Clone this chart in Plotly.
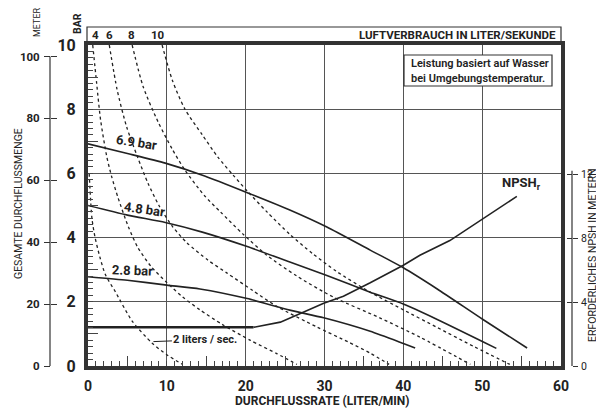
import plotly.graph_objects as go

# ---------------- data (flow in l/min, head in bar) ----------------
flow_69 = [0, 5, 9.8, 14.8, 20.2, 25.6, 30.3, 35.8, 40, 44.3, 50.1, 55.7]
head_69 = [6.92, 6.62, 6.32, 5.92, 5.4, 4.86, 4.33, 3.61, 3.06, 2.4, 1.45, 0.56]

flow_48 = [0, 5, 9.8, 14.5, 20.2, 25.6, 30.3, 35.8, 40, 44.3, 51.8]
head_48 = [5.0, 4.7, 4.47, 4.17, 3.72, 3.24, 2.82, 2.3, 1.93, 1.45, 0.55]

flow_28 = [0, 5, 10, 14.2, 20.2, 25.6, 29.9, 35.8, 40, 41.5]
head_28 = [2.78, 2.67, 2.52, 2.4, 2.1, 1.74, 1.5, 1.08, 0.7, 0.56]

# air consumption curves (dashed), labelled in litres/second
air2_x = [0.15, 0.5, 0.9, 1.5, 2.2, 3.5, 5.6, 8.1, 10.0, 12.0]
air2_y = [6.0, 4.6, 4.0, 3.4, 2.85, 2.3, 1.4, 0.72, 0.35, 0.05]

air4_x = [0.6, 1.1, 1.6, 2.4, 3.0, 3.8, 5.1, 6.3, 8.0, 10.0, 12.0, 14.2, 17.0, 20.6, 24.0, 26.5]
air4_y = [10.0, 8.8, 7.66, 6.5, 5.9, 5.25, 4.35, 3.7, 3.1, 2.6, 2.15, 1.75, 1.3, 0.8, 0.38, 0.05]

air6_x = [2.7, 3.7, 4.9, 6.3, 7.6, 9.0, 10.7, 12.5, 15.2, 17.6, 20.9, 24.0, 29.0, 33.0, 35.8, 38.2]
air6_y = [10.0, 8.6, 7.45, 6.5, 5.7, 5.0, 4.35, 3.85, 3.3, 2.9, 2.35, 1.85, 1.22, 0.75, 0.4, 0.05]

air8_x = [5.6, 7.0, 8.9, 10.7, 12.3, 14.8, 16.8, 19.7, 22.7, 26.5, 31.1, 37.0, 42.1, 48.5]
air8_y = [10.0, 8.7, 7.6, 6.75, 6.1, 5.3, 4.8, 4.1, 3.45, 2.8, 2.15, 1.5, 0.9, 0.05]

air10_x = [9.4, 10.7, 12.3, 14.5, 16.5, 18.4, 20.2, 22.7, 25.6, 28.5, 31.5, 35.8, 40.0, 44.3, 49.0, 53.5]
air10_y = [10.0, 8.9, 8.0, 7.2, 6.5, 5.95, 5.45, 4.8, 4.1, 3.5, 2.95, 2.3, 1.75, 1.2, 0.6, 0.05]

# NPSH required (metres)
npsh_x = [0, 21.0, 24.4, 27.3, 29.9, 32.4, 35.8, 40.0, 42.1, 45.9, 50.1, 54.4]
npsh_y = [2.42, 2.42, 2.74, 3.36, 3.92, 4.36, 5.2, 6.3, 6.92, 7.84, 9.2, 10.6]

x_ticks = [0, 10, 20, 30, 40, 50, 60]
bar_ticks = [0, 2, 4, 6, 8, 10]
meter_ticks = [0, 20, 40, 60, 80, 100]
npsh_ticks = [0, 4, 8, 12]
air_labels = ["4", "6", "8", "10"]
air_label_x = [1.0, 2.7, 5.5, 8.9]

# page body has an 8px margin: figure occupies window pixels 8..604 / 8..412
W, H = 596, 404
def fx(px): return (px - 8) / W
def fy(py): return (412 - py) / H

FC = "Roboto, Liberation Sans Narrow, DejaVu Sans Condensed, sans-serif"
FB = "Roboto, Open Sans, sans-serif"
INK = "#222"

fig = go.Figure()

solid = dict(color=INK, width=1.6, shape="spline", smoothing=0.6)
dashed = dict(color=INK, width=1.3, dash="3px,3px", shape="spline", smoothing=0.7)

for xs, ys in [(flow_69, head_69), (flow_48, head_48), (flow_28, head_28)]:
    fig.add_trace(go.Scatter(x=xs, y=ys, mode="lines", line=solid, hoverinfo="skip", showlegend=False))
for xs, ys in [(air2_x, air2_y), (air4_x, air4_y), (air6_x, air6_y), (air8_x, air8_y), (air10_x, air10_y)]:
    fig.add_trace(go.Scatter(x=xs, y=ys, mode="lines", line=dashed, hoverinfo="skip", showlegend=False))

# NPSH: flat part drawn heavier as in the original
fig.add_trace(go.Scatter(x=npsh_x[:2], y=npsh_y[:2], mode="lines", line=dict(color=INK, width=2.6),
                         yaxis="y3", hoverinfo="skip", showlegend=False))
fig.add_trace(go.Scatter(x=npsh_x[1:], y=npsh_y[1:], mode="lines", line=dict(color=INK, width=1.6),
                         yaxis="y3", hoverinfo="skip", showlegend=False))
# dummy traces to realise helper axes
for ya in ["y2", "y4", "y5", "y6"]:
    fig.add_trace(go.Scatter(x=[None], y=[None], yaxis=ya, showlegend=False, hoverinfo="skip"))
fig.add_trace(go.Scatter(x=[None], y=[None], xaxis="x2", showlegend=False, hoverinfo="skip"))

xdom = [fx(88), fx(561)]
ydom = [fy(366), fy(45)]
meter_top = 100 * 321 / 309.5
npsh_top = 12 * 321 / 192

fig.update_layout(
    width=W, height=H, margin=dict(l=0, r=0, t=0, b=0),
    paper_bgcolor="white", plot_bgcolor="white",
    xaxis=dict(domain=xdom, range=[0, 60], tickvals=x_ticks, ticks="inside", ticklen=1,
               tickwidth=1, tickcolor="#444", showgrid=True, gridcolor="#555", gridwidth=1.3,
               showline=True, linewidth=4, linecolor="#333", mirror=True, zeroline=False,
               tickfont=dict(family=FC, size=14, color=INK, weight="bold"), ticklabelstandoff=4,
               minor=dict(dtick=1, ticks="inside", ticklen=5, tickcolor="#444", tickwidth=1, showgrid=False),
               automargin=False, fixedrange=True),
    xaxis2=dict(overlaying="x", range=[0, 60], tickvals=[5, 15, 25, 35, 45, 55], ticks="inside",
                ticklen=10, tickcolor="#444", showticklabels=False, showgrid=False, showline=False,
                zeroline=False, anchor="y", side="bottom", automargin=False),
    yaxis=dict(domain=ydom, range=[0, 10], tickvals=bar_ticks, ticks="inside", ticklen=1,
               tickcolor="#444", showgrid=True, gridcolor="#555", gridwidth=1.3,
               showline=True, linewidth=4, linecolor="#333", mirror=True, zeroline=False,
               tickfont=dict(family=FC, size=16, color=INK, weight="bold"), ticklabelstandoff=5,
               minor=dict(dtick=0.2, ticks="inside", ticklen=5, tickcolor="#444", tickwidth=1, showgrid=False),
               automargin=False, fixedrange=True),
    yaxis4=dict(overlaying="y", range=[0, 10], tickvals=[1, 3, 5, 7, 9], ticks="inside", ticklen=10,
                tickcolor="#444", showticklabels=False, showgrid=False, showline=False, zeroline=False,
                anchor="x", side="left", automargin=False),
    yaxis2=dict(overlaying="y", anchor="free", position=fx(50), side="left",
                range=[0, meter_top], tickvals=meter_ticks, ticks="outside", ticklen=6,
                tickcolor="#333", tickwidth=1.2, showgrid=False, showline=False, zeroline=False,
                tickfont=dict(family=FC, size=11.5, color=INK, weight="bold"), ticklabelstandoff=2,
                automargin=False),
    yaxis5=dict(overlaying="y", anchor="free", position=fx(50), side="left",
                range=[0, meter_top], tickvals=meter_ticks, ticks="inside", ticklen=6,
                tickcolor="#333", tickwidth=1.2, showticklabels=False, showgrid=False, showline=False,
                zeroline=False, automargin=False),
    yaxis3=dict(overlaying="y", anchor="free", position=fx(572), side="right",
                range=[0, npsh_top], tickvals=npsh_ticks, ticks="outside", ticklen=5,
                tickcolor="#333", tickwidth=1.2, showgrid=False, showline=False, zeroline=False,
                tickfont=dict(family=FC, size=10.5, color=INK), ticklabelstandoff=1, automargin=False),
    yaxis6=dict(overlaying="y", anchor="free", position=fx(572), side="right",
                range=[0, npsh_top], tickvals=npsh_ticks, ticks="inside", ticklen=5,
                tickcolor="#333", tickwidth=1.2, showticklabels=False, showgrid=False, showline=False,
                zeroline=False, automargin=False),
)

shapes = [
    # header box
    dict(type="rect", xref="paper", yref="paper", x0=fx(87), x1=fx(561), y0=fy(43), y1=fy(27),
         line=dict(color="#333", width=1.2), fillcolor="rgba(0,0,0,0)"),
    # info box
    dict(type="rect", xref="paper", yref="paper", x0=fx(404), x1=fx(552), y0=fy(86), y1=fy(55),
         line=dict(color="#333", width=1.2), fillcolor="white", layer="above"),
    # meter axis line
    dict(type="line", xref="paper", yref="y2", x0=fx(50), x1=fx(50), y0=0, y1=100,
         line=dict(color="#333", width=1.2)),
    # npsh axis line
    dict(type="line", xref="paper", yref="y3", x0=fx(572), x1=fx(572), y0=0, y1=12.2,
         line=dict(color="#333", width=1.2)),
]
fig.update_layout(shapes=shapes)

ann = []
def A(text, x, y, xref="x", yref="y", size=12, family=FC, weight="normal", angle=0,
      xanchor="center", yanchor="middle", **kw):
    ann.append(dict(text=text, x=x, y=y, xref=xref, yref=yref, showarrow=False, textangle=angle,
                    xanchor=xanchor, yanchor=yanchor,
                    font=dict(family=family, size=size, color=INK, weight=weight), **kw))

A("6.9 bar", 6.2, 6.95, size=13, weight="bold", angle=9)
A("4.8 bar", 7.2, 4.88, size=13, weight="bold", angle=8)
A("2.8 bar", 5.6, 2.98, size=13, weight="bold", angle=2)
A("NPSH<sub>r</sub>", 55.0, 5.68, size=13, weight="bold")
ann.append(dict(text="2 liters / sec.", x=8.3, y=0.76, xref="x", yref="y", showarrow=True,
                arrowhead=0, arrowwidth=1, arrowcolor=INK, ax=52, ay=-2, standoff=0,
                font=dict(family=FC, size=11, color=INK, weight="bold")))

A("LUFTVERBRAUCH IN LITER/SEKUNDE", fx(558), fy(35), xref="paper", yref="paper", size=11.5,
  family=FB, weight="bold", xanchor="right")
for t, xv in zip(air_labels, air_label_x):
    A(t, xv, fy(35), yref="paper", size=11.5, weight="bold")
A("Leistung basiert auf Wasser", fx(409), fy(63), xref="paper", yref="paper", size=11,
  family=FB, weight=600, xanchor="left")
A("bei Umgebungstemperatur.", fx(409), fy(78.5), xref="paper", yref="paper", size=11,
  family=FB, weight=600, xanchor="left")

A("DURCHFLUSSRATE (LITER/MIN)", fx(322), fy(401), xref="paper", yref="paper", size=12,
  weight="bold")
A("GESAMTE DURCHFLUSSMENGE", fx(18), fy(204), xref="paper", yref="paper", size=10.5, angle=-90)
A("METER", fx(37), fy(22), xref="paper", yref="paper", size=9, angle=-90)
A("BAR", fx(77), fy(24), xref="paper", yref="paper", size=10.5, angle=-90, weight="bold")
A("ERFORDERLICHES NPSH IN METERN", fx(592), fy(255), xref="paper", yref="paper", size=10.5,
  angle=-90)

fig.update_layout(annotations=ann)
fig.write_html("out.html")
